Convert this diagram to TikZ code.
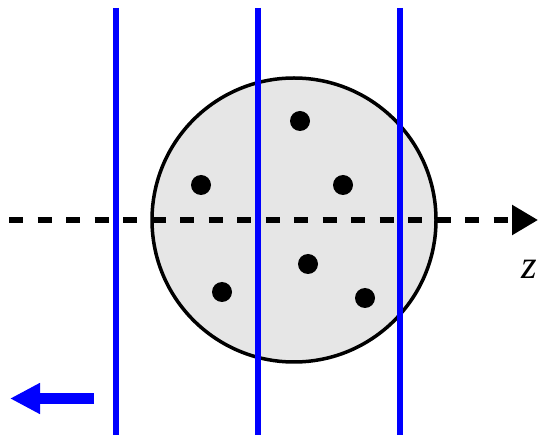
\documentclass[tikz,border=0pt]{standalone}
\usepackage{fontspec}
\setmainfont{Liberation Serif}
\usetikzlibrary{arrows.meta}
\definecolor{cfill}{RGB}{230,230,230}
\definecolor{lblue}{RGB}{0,0,255}
\begin{document}
\begin{tikzpicture}[x=1pt,y=-1pt,
  dot/.style={circle,fill=black,inner sep=0pt,minimum size=20pt},
  wire/.style={lblue,line width=6.5pt},
  axis/.style={line width=5.5pt,dash pattern=on 14pt off 14.5pt,-{Triangle[length=26pt,width=29pt]}}]
\useasboundingbox (0,0) rectangle (538,435);
\node[circle,draw=black,fill=cfill,line width=3.5pt,minimum size=284pt,inner sep=0pt] (ball) at (294,220) {};
\node[dot] (d1) at (300,121) {};
\node[dot] (d2) at (201,185) {};
\node[dot] (d3) at (343,185) {};
\node[dot] (d4) at (308,264) {};
\node[dot] (d5) at (222,292) {};
\node[dot] (d6) at (365,298) {};
\coordinate (zs) at (9,220);
\coordinate (ze) at (538,220);
\draw[axis] (zs) -- (ze);
\foreach \i/\x in {1/116,2/258,3/400}{
  \coordinate (t\i) at (\x,8);
  \coordinate (b\i) at (\x,435);
  \draw[wire] (t\i) -- (b\i);
}
\node[inner sep=0pt,anchor=base] (zl) at (529.5,279) {\fontsize{40}{40}\selectfont\itshape z};
\coordinate (as) at (94,398.5);
\coordinate (ae) at (10,398.5);
\draw[lblue,line width=11pt,-{Triangle[length=30pt,width=29pt]}] (as) -- (ae);
\end{tikzpicture}
\end{document}
